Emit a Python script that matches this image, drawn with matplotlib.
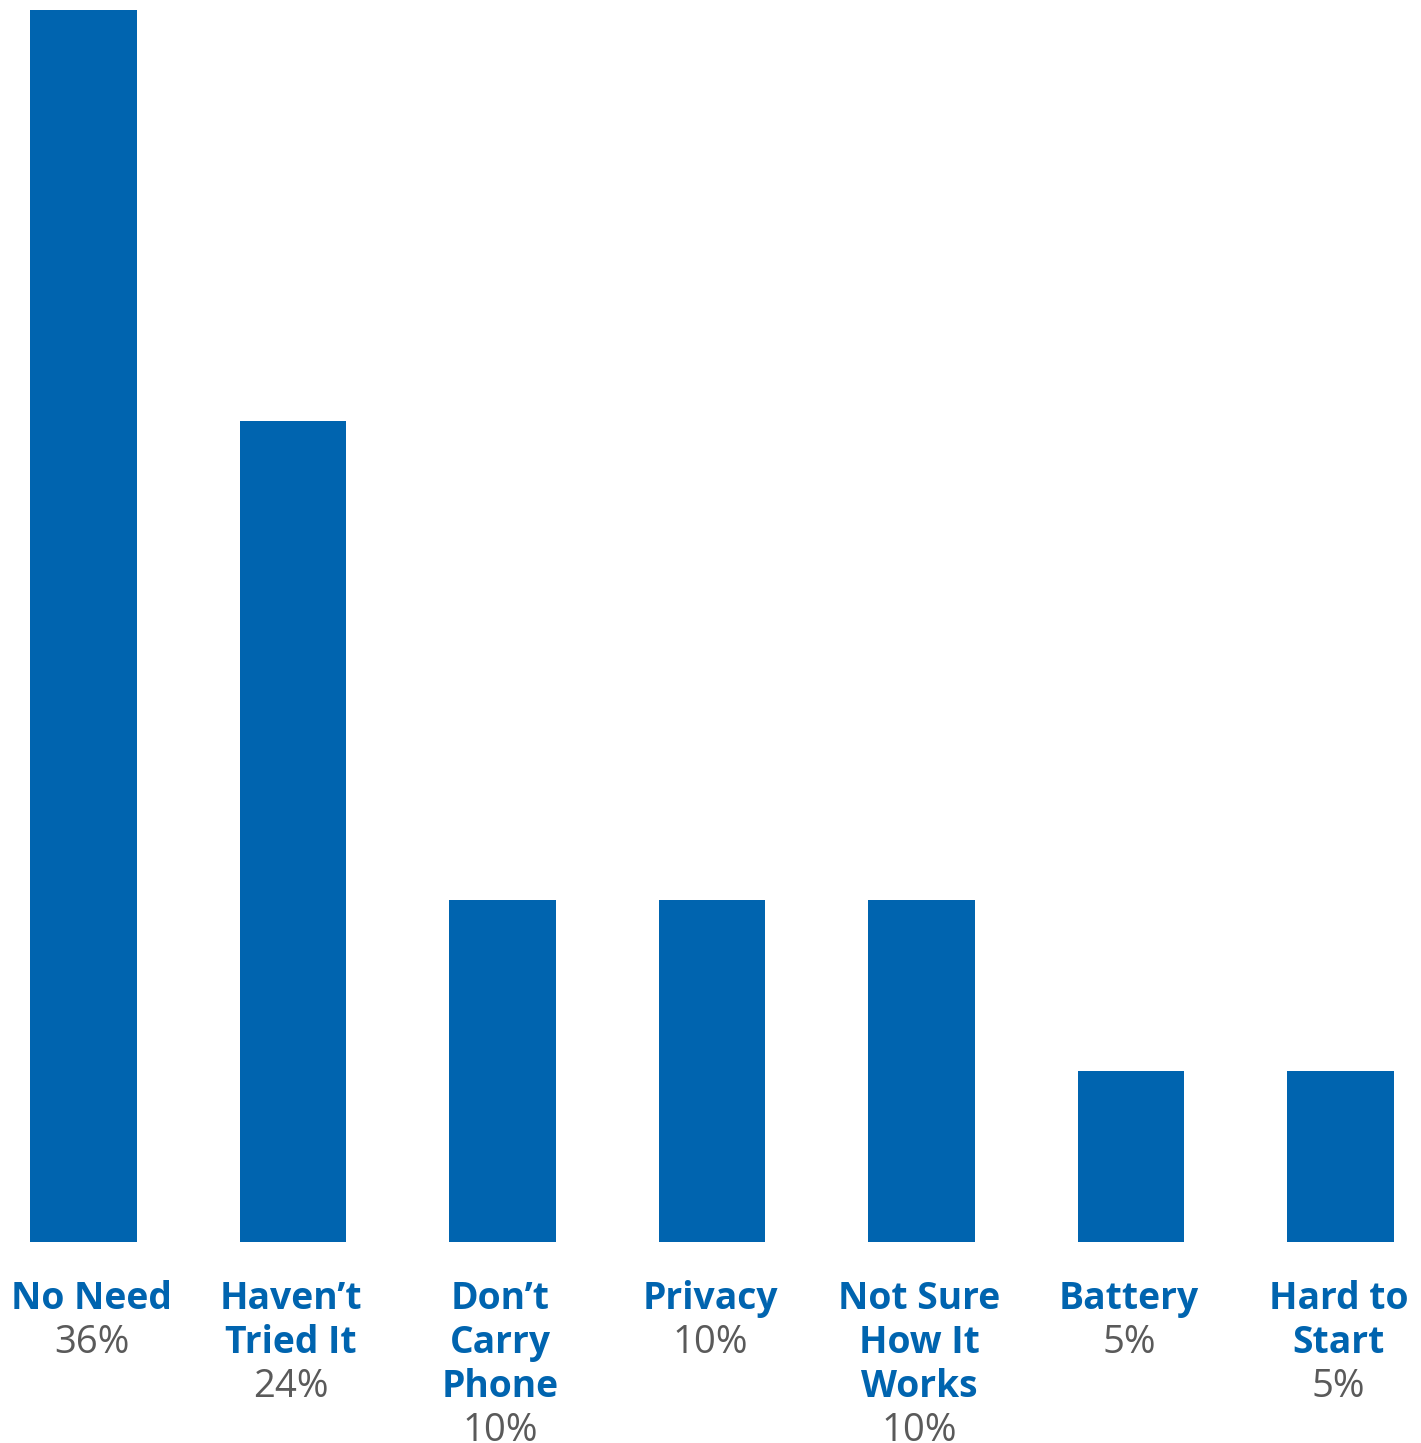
import matplotlib.pyplot as plt

# reasons for not using the feature, share of respondents
labels = ["No Need", "Haven\u2019t\nTried It", "Don\u2019t\nCarry\nPhone", "Privacy",
          "Not Sure\nHow It\nWorks", "Battery", "Hard to\nStart"]
values = [36, 24, 10, 10, 10, 5, 5]
pct_labels = ["36%", "24%", "10%", "10%", "10%", "5%", "5%"]

blue = "#0064AF"
gray = "#5a5a5a"

fig = plt.figure(figsize=(14.21, 14.43), dpi=100)
ax = fig.add_axes([0, (1443 - 1242) / 1443, 1, (1242 - 10) / 1443])

x = list(range(len(values)))
ax.bar(x, values, width=0.51, color=blue)
ax.set_xlim(-83.5 / 209.5, (1421 - 83.5) / 209.5)
ax.set_ylim(0, 36)
ax.axis("off")

# label lines sit 44px apart below the bars
line_px = 44
first_px = 1299 - 1242
for i, (lab, pct) in enumerate(zip(labels, pct_labels)):
    lines = lab.split("\n")
    dx = 8 if i == 0 else -2
    for j, ln in enumerate(lines):
        ax.annotate(ln, xy=(i, 0), xytext=(dx * 0.72, -(first_px + j * line_px) * 0.72),
                    textcoords="offset points", ha="center", va="center",
                    fontsize=26.8, fontweight="bold", color=blue, family="Open Sans")
    ax.annotate(pct, xy=(i, 0), xytext=(dx * 0.72, -(first_px + len(lines) * line_px) * 0.72),
                textcoords="offset points", ha="center", va="center",
                fontsize=27.5, color=gray, family="Open Sans")

fig.savefig("out.png", dpi=100)
